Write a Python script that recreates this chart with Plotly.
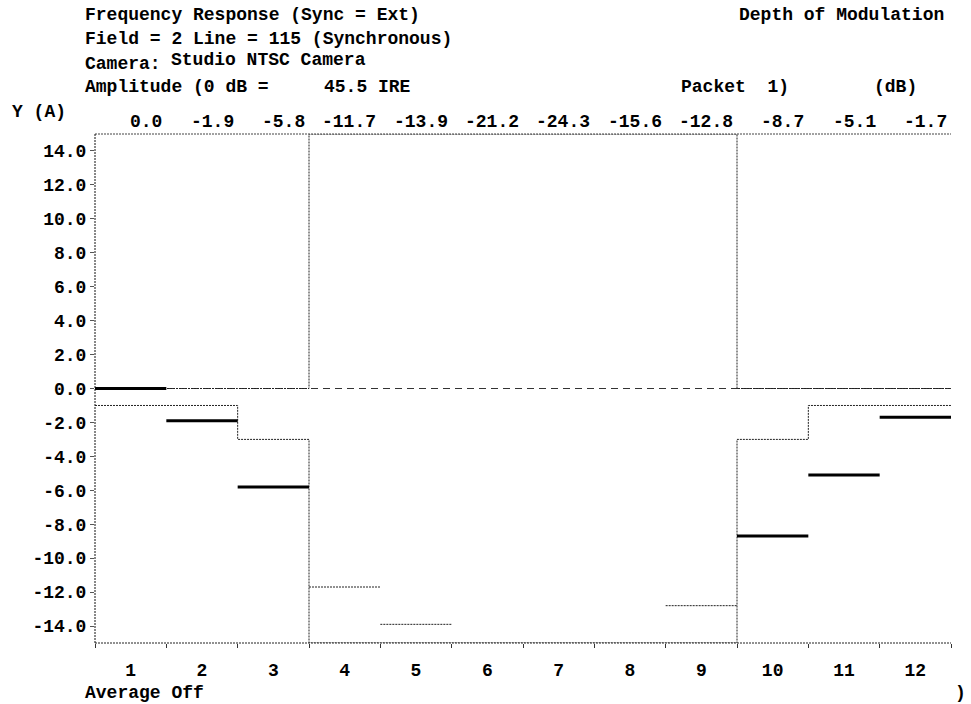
import plotly.graph_objects as go

# ---------------- data ----------------
packets = list(range(1, 13))
depth_db = [0.0, -1.9, -5.8, -11.7, -13.9, -21.2, -24.3, -15.6, -12.8, -8.7, -5.1, -1.7]
mask_upper = [0, 0, 0, 15, 15, 15, 15, 15, 15, 0, 0, 0]
mask_lower = [-1, -1, -3, -15, -15, -15, -15, -15, -15, -3, -1, -1]
y_ticks = [14, 12, 10, 8, 6, 4, 2, 0, -2, -4, -6, -8, -10, -12, -14]

FONT = "Liberation Mono, Courier New, monospace"
FS = 18

# plot-area pixel geometry (for text placement outside the axes)
L, R, T, B = 95, 951, 134, 643
W, H = 971, 704


def px(xp):
    return (xp - L) / (R - L)


def py(yp):
    return (B - yp) / (B - T)


fig = go.Figure()

# mask (limits) as step lines
edges = [p - 0.5 for p in packets] + [packets[-1] + 0.5]
for lim in (mask_upper, mask_lower):
    fig.add_trace(go.Scatter(x=edges, y=lim + [lim[-1]], mode="lines",
                             line=dict(color="#222", width=1, dash="2px,1px", shape="hv"),
                             hoverinfo="skip", showlegend=False, cliponaxis=False))

# measured levels per packet: thick where the mask is tight, thin dashed otherwise
tx, ty, nx, ny = [], [], [], []
for p, v, up in zip(packets, depth_db, mask_upper):
    if up < 15:
        tx += [p - 0.5, p + 0.5, None]
        ty += [v, v, None]
    else:
        nx += [p - 0.5, p + 0.5, None]
        ny += [v, v, None]
fig.add_trace(go.Scatter(x=tx, y=ty, mode="lines", line=dict(color="black", width=3),
                         showlegend=False))
fig.add_trace(go.Scatter(x=nx, y=ny, mode="lines",
                         line=dict(color="#222", width=1, dash="2px,1px"),
                         showlegend=False))

shapes = [
    # zero reference line
    dict(type="line", xref="paper", yref="y", x0=0, x1=1, y0=0, y1=0,
         line=dict(color="#333", width=1, dash="7px,5px"), layer="below"),
    # frame: top, bottom, left
    dict(type="line", xref="paper", yref="paper", x0=0, x1=1, y0=1, y1=1,
         line=dict(color="#444", width=1, dash="2px,1px")),
    dict(type="line", xref="paper", yref="paper", x0=0, x1=1, y0=0, y1=0,
         line=dict(color="#222", width=1, dash="2px,1px")),
    dict(type="line", xref="paper", yref="paper", x0=0, x1=0, y0=0, y1=1,
         line=dict(color="#111", width=1, dash="2px,1px")),
]

ann = []


def text(s, xp, yp, anchor="left"):
    ann.append(dict(text=s, xref="paper", yref="paper", x=px(xp), y=py(yp),
                    xanchor=anchor, yanchor="middle", showarrow=False,
                    font=dict(family=FONT, size=FS, color="black", weight="bold")))


text("Frequency Response (Sync = Ext)", 83, 15)
text("Field = 2 Line = 115 (Synchronous)", 83, 39)
text("Camera:", 83, 64)
text("Studio NTSC Camera", 169, 60)
text("Amplitude (0 dB =", 83, 87)
text("45.5 IRE", 322, 87)
text("Packet  1)", 679, 87)
text("(dB)", 872, 87)
text("Depth of Modulation", 946, 15, "right")
text("Y (A)", 10, 112)
text("Average Off", 83, 693)
text(")", 953, 693)

# packet value labels above the plot, right-aligned at each packet's right edge
for p, v in zip(packets, depth_db):
    ann.append(dict(text=f"{v:.1f}", xref="x", yref="paper", x=p + 0.5, y=py(122),
                    xanchor="right", yanchor="middle", xshift=-2, showarrow=False,
                    font=dict(family=FONT, size=FS, color="black", weight="bold")))

fig.update_layout(
    width=W, height=H,
    margin=dict(l=L, r=W - R, t=T, b=H - B, pad=0),
    paper_bgcolor="white", plot_bgcolor="white",
    shapes=shapes, annotations=ann,
    font=dict(family=FONT, size=FS, color="black", weight="bold"),
    xaxis=dict(range=[0.5, 12.5], tickmode="array", tickvals=packets,
               ticktext=[str(p) for p in packets], ticks="", showgrid=False,
               zeroline=False, showline=False, ticklabelstandoff=14,
               minor=dict(tickmode="array", tickvals=edges, ticks="outside",
                          ticklen=4, tickcolor="#333", showgrid=False),
               fixedrange=True),
    yaxis=dict(range=[-15, 15], tickmode="array", tickvals=y_ticks,
               ticktext=[f"{t:.1f}" for t in y_ticks], ticks="outside", ticklen=4,
               tickcolor="#555", showgrid=False, zeroline=False, showline=False,
               fixedrange=True),
)

fig.write_html("out.html")
